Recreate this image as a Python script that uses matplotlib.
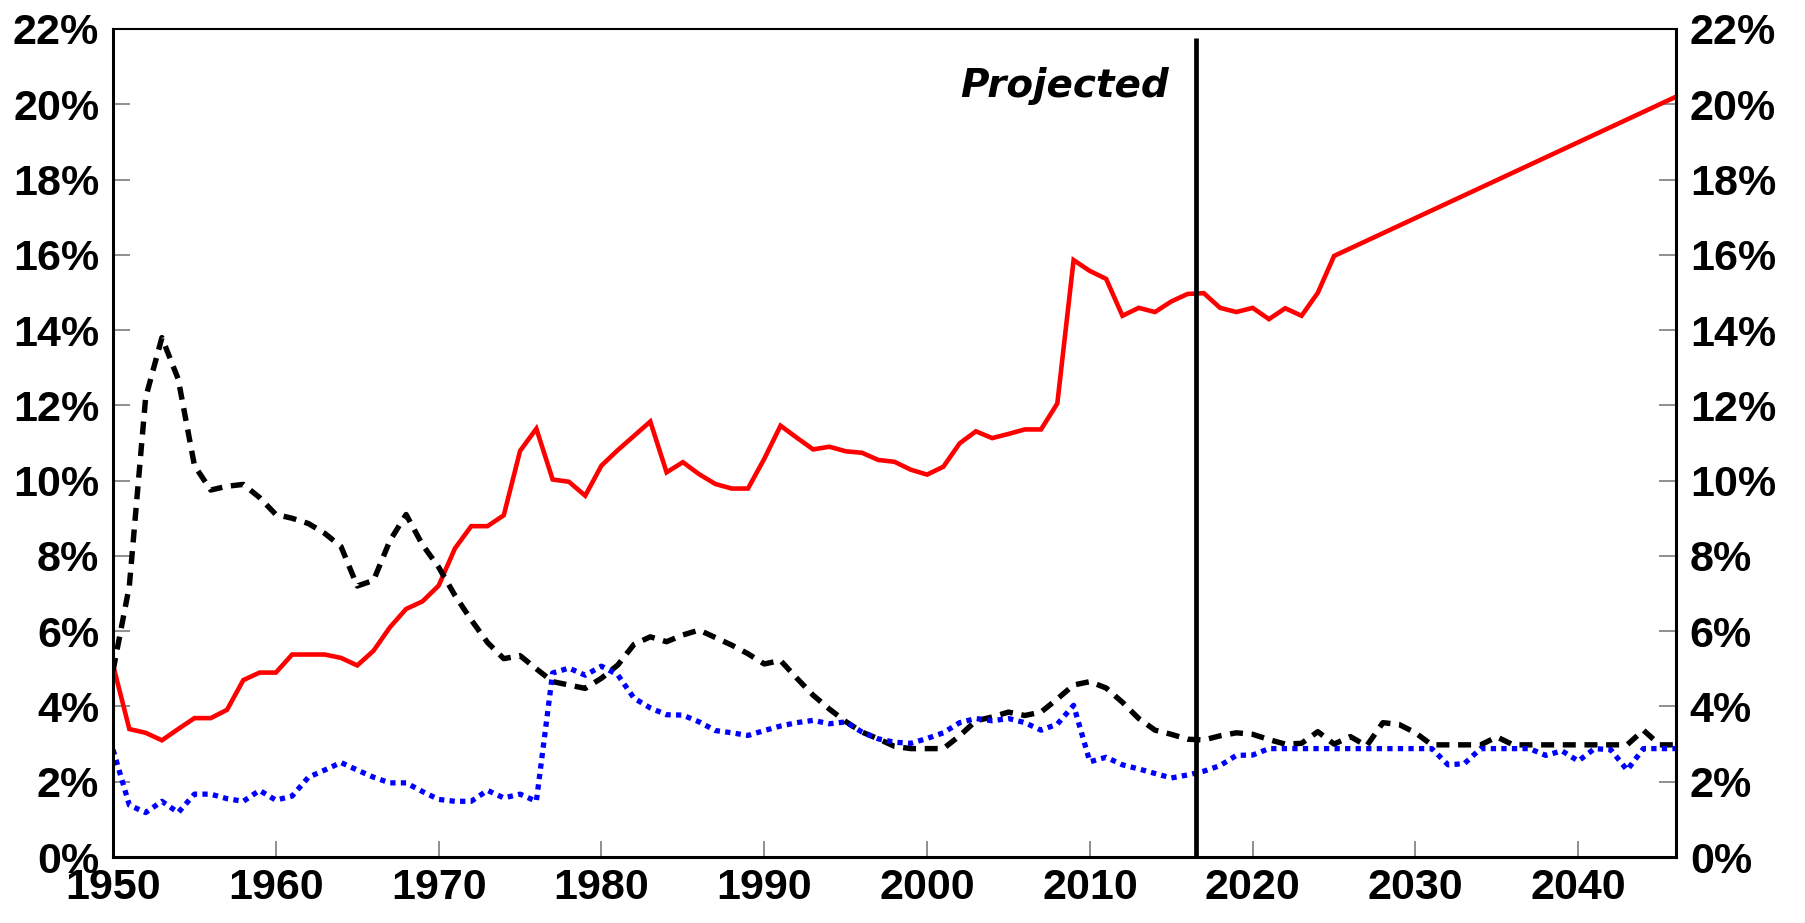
import matplotlib

matplotlib.use("Agg")
import matplotlib.pyplot as plt
import numpy as np
from matplotlib.ticker import FuncFormatter

plt.rcParams["font.family"] = ["Liberation Sans", "DejaVu Sans"]

# ── data (percent) ───────────────────────────────────────────────────────────
years = np.arange(1950, 2047)

black_dash = [
    4.95, 7.2, 12.2, 13.8, 12.7, 10.4, 9.75, 9.85, 9.9, 9.55,      # 1950s
    9.1, 9.0, 8.86, 8.6, 8.25, 7.2, 7.35, 8.4, 9.1, 8.3,           # 1960s
    7.7, 6.95, 6.3, 5.7, 5.27, 5.35, 5.0, 4.66, 4.57, 4.48,        # 1970s
    4.75, 5.1, 5.65, 5.85, 5.72, 5.9, 6.03, 5.83, 5.63, 5.4,       # 1980s
    5.13, 5.22, 4.75, 4.3, 3.93, 3.6, 3.32, 3.14, 2.94, 2.88,      # 1990s
    2.88, 2.88, 3.22, 3.62, 3.72, 3.85, 3.76, 3.85, 4.2, 4.57,     # 2000s
    4.66, 4.49, 4.11, 3.68, 3.37, 3.26, 3.13, 3.11, 3.22, 3.3,     # 2010s
    3.26, 3.12, 3.0, 3.02, 3.33, 3.0, 3.2, 2.95, 3.57, 3.52,       # 2020s
    3.3, 2.98, 2.98, 2.98, 2.98, 3.19, 2.98, 2.98, 2.98, 2.98,     # 2030s
    2.98, 2.98, 2.98, 2.98, 3.37, 2.98, 2.98,                      # 2040-2046
]

blue_dot = [
    2.85, 1.38, 1.18, 1.48, 1.18, 1.67, 1.67, 1.55, 1.48, 1.77,
    1.51, 1.62, 2.12, 2.31, 2.51, 2.31, 2.12, 1.97, 1.97, 1.74,
    1.53, 1.48, 1.48, 1.77, 1.57, 1.67, 1.48, 4.89, 5.02, 4.83,
    5.07, 4.84, 4.22, 3.96, 3.78, 3.77, 3.59, 3.36, 3.30, 3.23,
    3.36, 3.48, 3.57, 3.63, 3.54, 3.59, 3.32, 3.14, 3.05, 3.02,
    3.15, 3.3, 3.57, 3.68, 3.62, 3.68, 3.57, 3.37, 3.53, 4.03,
    2.53, 2.65, 2.45, 2.34, 2.22, 2.1, 2.18, 2.28, 2.43, 2.7,
    2.71, 2.88, 2.88, 2.88, 2.88, 2.88, 2.88, 2.88, 2.88, 2.88,
    2.88, 2.88, 2.45, 2.48, 2.88, 2.88, 2.88, 2.88, 2.7, 2.82,
    2.55, 2.88, 2.85, 2.31, 2.88, 2.88, 2.88,
]

red_years = list(range(1950, 2026)) + [2046]
red_solid = [
    5.1, 3.4, 3.3, 3.1, 3.4, 3.69, 3.69, 3.91, 4.7, 4.9,
    4.9, 5.38, 5.38, 5.38, 5.29, 5.09, 5.48, 6.1, 6.59, 6.79,
    7.21, 8.2, 8.79, 8.79, 9.08, 10.79, 11.38, 10.03, 9.97, 9.6,
    10.4, 10.81, 11.19, 11.57, 10.22, 10.49, 10.17, 9.91, 9.79, 9.79,
    10.58, 11.46, 11.14, 10.83, 10.9, 10.78, 10.74, 10.55, 10.5, 10.29,
    10.16, 10.37, 10.99, 11.31, 11.13, 11.24, 11.36, 11.36, 12.05, 15.86,
    15.57, 15.36, 14.38, 14.59, 14.48, 14.76, 14.96, 14.98, 14.59, 14.48,
    14.59, 14.29, 14.58, 14.38, 14.99, 15.97,
    20.2,
]

PROJ_YEAR = 2016.5
PROJ_TOP = 21.75
y_ticks = list(range(0, 23, 2))
x_ticks = list(range(1950, 2041, 10))

# ── plot ─────────────────────────────────────────────────────────────────────
fig = plt.figure(figsize=(18.06, 9.23), dpi=100)
ax = fig.add_axes([0.0626, 0.0715, 0.8654, 0.8971])

ax.plot(red_years, red_solid, color="#ff0000", linewidth=3.3, solid_joinstyle="miter")
ax.plot(years, black_dash, color="black", linewidth=3.9, dashes=(2.4, 1.6),
        dash_capstyle="butt")
ax.plot(years, blue_dot, color="#0000ff", linewidth=3.8, dashes=(1.0, 1.0),
        dash_capstyle="butt")

ax.vlines(PROJ_YEAR, 0, PROJ_TOP, color="black", linewidth=3.4, clip_on=False)
ax.text(2014.85, 20.19, "Projected", ha="right", va="baseline",
        fontsize=28, fontweight="bold", fontstyle="italic",
        family=["DejaVu Sans"])

ax.set_xlim(1950, 2046)
ax.set_ylim(0, 22)
ax.set_xticks(x_ticks)
ax.set_yticks(y_ticks)
ax.yaxis.set_major_formatter(FuncFormatter(lambda v, _: f"{v:.0f}%"))

ax.tick_params(axis="y", direction="in", length=12, width=1.1,
               color="#707070", left=True, right=True, labelleft=True,
               labelright=True, labelsize=31, pad=10)
ax.tick_params(axis="x", direction="in", length=11.5, width=1.1,
               color="#707070", labelsize=31, pad=8)
for lab in ax.get_xticklabels() + ax.get_yticklabels():
    lab.set_fontweight("bold")
for t in ax.yaxis.get_major_ticks():
    t.label2.set_fontweight("bold")

for side in ["left", "right", "bottom"]:
    ax.spines[side].set_linewidth(2.2)
ax.spines["top"].set_linewidth(1.5)

fig.savefig("out.png", dpi=100)
plt.close(fig)
print("saved: out.png")
